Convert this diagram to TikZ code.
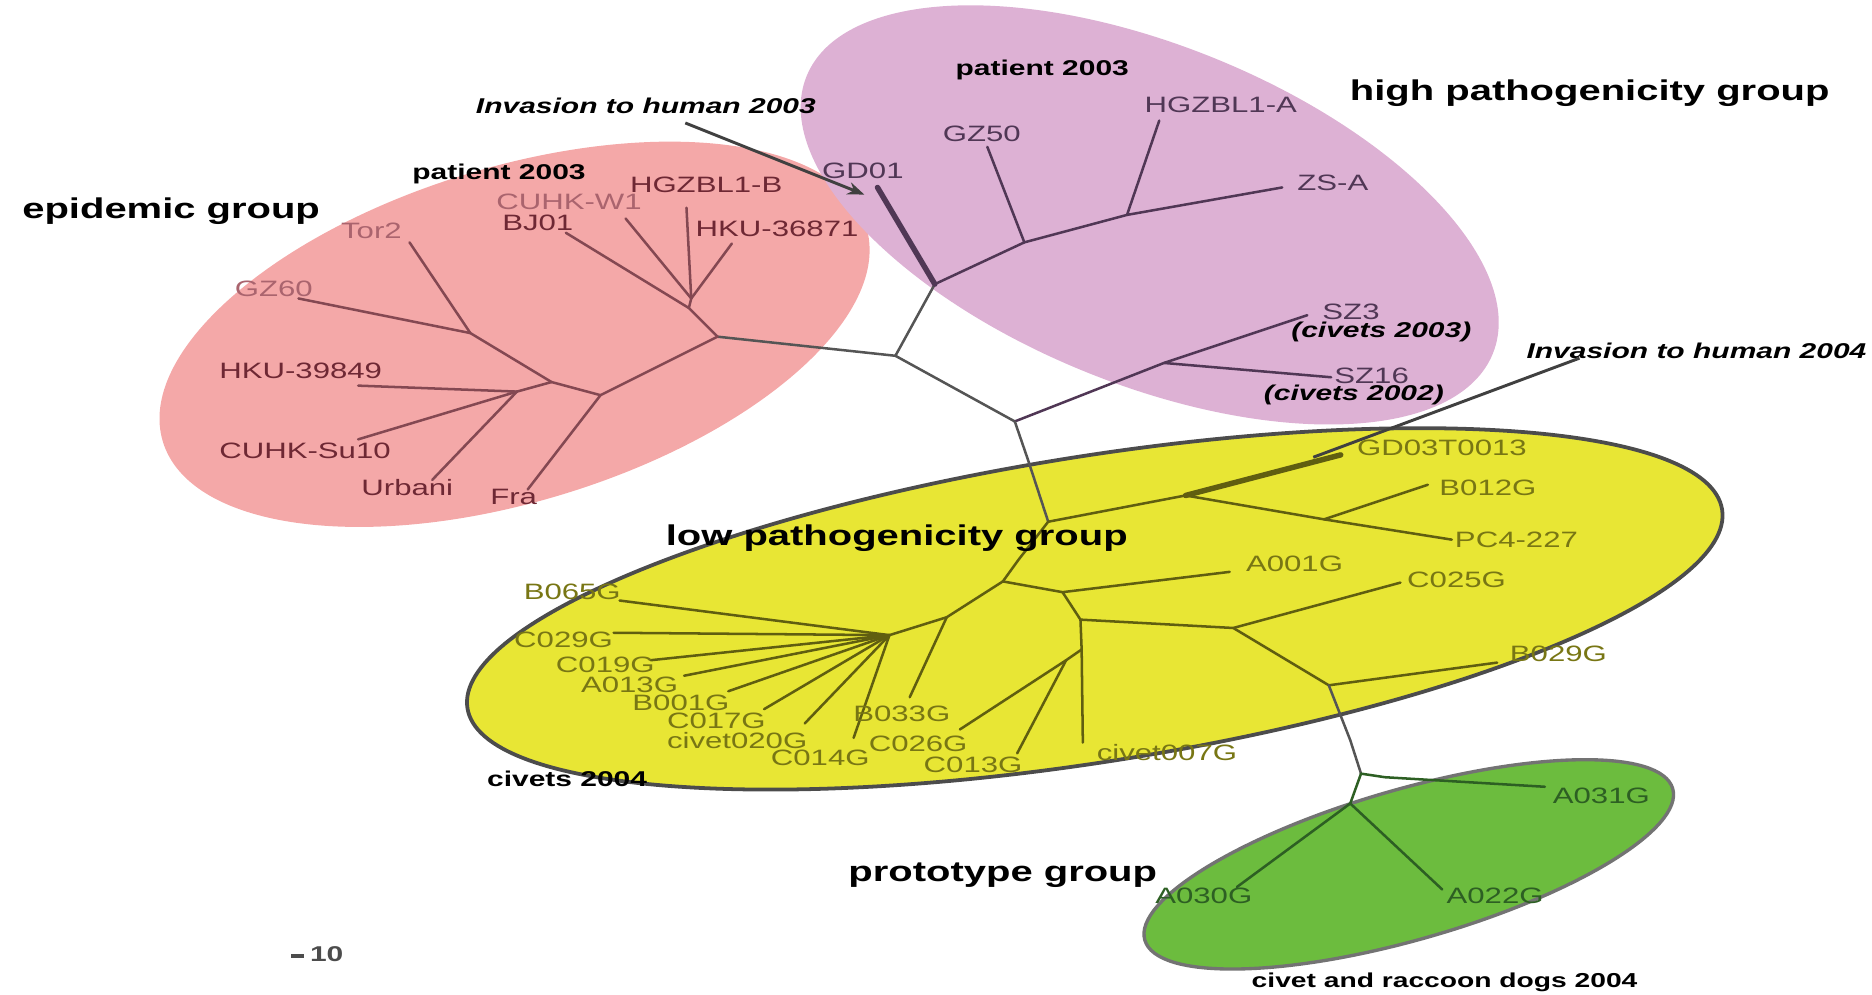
\documentclass[tikz,border=0pt]{standalone}
\usepackage{fontspec}
\setmainfont{Liberation Sans}[FakeStretch=1.4]
\usetikzlibrary{arrows.meta}
\definecolor{epipink}{RGB}{244,168,168}
\definecolor{highpurple}{RGB}{221,177,212}
\definecolor{lowyellow}{RGB}{232,230,52}
\definecolor{protogreen}{RGB}{108,188,62}
\definecolor{pinkink}{RGB}{110,40,52}
\definecolor{pinkpale}{RGB}{170,100,110}
\definecolor{purpink}{RGB}{80,55,85}
\definecolor{yellowink}{RGB}{120,118,20}
\definecolor{greenink}{RGB}{45,95,35}
\definecolor{stemgray}{RGB}{85,85,85}
\tikzset{
  grouplabel/.style={font=\fontsize{6.8}{8}\selectfont\bfseries,
    inner sep=0pt, anchor=west},
  notelabel/.style={font=\fontsize{5.1}{6}\selectfont\bfseries, inner sep=0pt},
  invlabel/.style={font=\fontsize{5.1}{6}\selectfont\bfseries\itshape,
    inner sep=0pt},
  strain/.style={font=\fontsize{5.3}{6}\selectfont, inner sep=0pt,
    anchor=west},
  stem/.style={line width=0.6pt, line cap=round, line join=round,
    draw=stemgray},
  epiline/.style={stem, draw=pinkink!85},
  highline/.style={stem, draw=purpink},
  lowline/.style={stem, draw=yellowink!80!black},
  protoline/.style={stem, draw=greenink},
  pointer/.style={line width=0.7pt, draw=black!75},
}

\begin{document}
\begin{tikzpicture}[x=0.01cm, y=-0.01cm]
  \useasboundingbox (0,0) rectangle (1568,833);

  % group areas
  \coordinate (epic) at (431,280);
  \coordinate (highc) at (963,180);
  \coordinate (lowc) at (917,510);
  \coordinate (protoc) at (1180,724);
  \fill[epipink, rotate around={17:(epic)}] (epic) ellipse [x radius=308, y radius=140];
  \fill[highpurple, rotate around={-22:(highc)}] (highc) ellipse [x radius=310, y radius=142];
  \filldraw[fill=lowyellow, draw=black!70, line width=0.9pt, rotate around={9:(lowc)}]
    (lowc) ellipse [x radius=532, y radius=128];
  \filldraw[fill=protogreen, draw=black!55, line width=0.8pt, rotate around={16:(protoc)}]
    (protoc) ellipse [x radius=230, y radius=63];

  % inner nodes of the tree
  \coordinate (c1) at (750,298);
  \coordinate (c2) at (850,353);
  \coordinate (t1) at (861,385);
  \coordinate (y1) at (878,437);
  \coordinate (t2) at (853,469);
  \coordinate (y4) at (840,487);

  % Epidemic group
  \coordinate (p1) at (394,279);
  \coordinate (p2) at (462,320);
  \coordinate (p3) at (433,328);
  \coordinate (p4) at (503,331);
  \coordinate (p5) at (601,282);
  \coordinate (p6) at (577,258);
  \coordinate (p7) at (579,250);
  \coordinate (tor2e) at (343,203);
  \coordinate (gz60e) at (250,250);
  \coordinate (hku39e) at (300,323);
  \coordinate (su10e) at (300,368);
  \coordinate (urbe) at (362,402);
  \coordinate (frae) at (442,410);
  \coordinate (bj01e) at (474,195);
  \coordinate (w1e) at (524,183);
  \coordinate (hgzbe) at (575,174);
  \coordinate (hku36e) at (613,204);

  \draw[stem] (p5) -- (c1);
  \draw[epiline] (p5) -- (p6) -- (bj01e);
  \draw[epiline] (p6) -- (p7) -- (w1e);
  \draw[epiline] (p7) -- (hgzbe);
  \draw[epiline] (p7) -- (hku36e);
  \draw[epiline] (p5) -- (p4) -- (frae);
  \draw[epiline] (p4) -- (p2) -- (p1) -- (tor2e);
  \draw[epiline] (p1) -- (gz60e);
  \draw[epiline] (p2) -- (p3) -- (hku39e);
  \draw[epiline] (p3) -- (su10e);
  \draw[epiline] (p3) -- (urbe);

  \node[grouplabel] (epititle) at (18,177) {epidemic group};
  \node[notelabel] (epipat) at (418,146) {patient 2003};
  \node[strain, text=pinkpale] (tor2) at (285,193) {Tor2};
  \node[strain, text=pinkpale] (gz60) at (196,242) {GZ60};
  \node[strain, text=pinkink] (hku39) at (183,311) {HKU-39849};
  \node[strain, text=pinkink] (su10) at (183,378) {CUHK-Su10};
  \node[strain, text=pinkink] (urb) at (302,408) {Urbani};
  \node[strain, text=pinkink] (fra) at (410,416) {Fra};
  \node[strain, text=pinkink] (bj01) at (420,187) {BJ01};
  \node[strain, text=pinkpale] (w1) at (415,169) {CUHK-W1};
  \node[strain, text=pinkink] (hgzb) at (527,155) {HGZBL1-B};
  \node[strain, text=pinkink] (hku36) at (582,192) {HKU-36871};

  % High pathogenicity group
  \coordinate (pr) at (783,238);
  \coordinate (pa) at (858,203);
  \coordinate (pb) at (944,180);
  \coordinate (sz) at (975,304);
  \coordinate (gd01e) at (735,157);
  \coordinate (gz50e) at (827,123);
  \coordinate (hgzae) at (971,101);
  \coordinate (zsae) at (1074,157);
  \coordinate (sz3e) at (1095,264);
  \coordinate (sz16e) at (1115,316);

  \draw[stem] (c1) -- (pr);
  \draw[highline, line width=1.3pt] (pr) -- (gd01e);
  \draw[highline] (pr) -- (pa) -- (gz50e);
  \draw[highline] (pa) -- (pb) -- (hgzae);
  \draw[highline] (pb) -- (zsae);
  \draw[stem] (c1) -- (c2);
  \draw[highline] (c2) -- (sz) -- (sz3e);
  \draw[highline] (sz) -- (sz16e);

  \node[grouplabel] (hightitle) at (1130,78) {high pathogenicity group};
  \node[notelabel] (highpat) at (873,59) {patient 2003};
  \node[invlabel] (inv03) at (541,89) {Invasion to human 2003};
  \coordinate (inv03e) at (724,163);
  \draw[pointer, -{Stealth[length=4pt]}] (574,103) -- (inv03e);
  \node[strain, text=purpink] (gd01) at (688,143) {GD01};
  \node[strain, text=purpink] (gz50) at (789,112) {GZ50};
  \node[strain, text=purpink] (hgza) at (958,88) {HGZBL1-A};
  \node[strain, text=purpink] (zsa) at (1086,153) {ZS-A};
  \node[strain, text=purpink] (sz3) at (1107,261) {SZ3};
  \node[invlabel] (civ03) at (1157,278) {(civets 2003)};
  \node[strain, text=purpink] (sz16) at (1117,315) {SZ16};
  \node[invlabel] (civ02) at (1134,331) {(civets 2002)};

  % Low pathogenicity group
  \coordinate (y2) at (993,415);
  \coordinate (y3) at (1109,435);
  \coordinate (y5) at (1033,526);
  \coordinate (y6) at (1113,574);
  \coordinate (y7) at (890,496);
  \coordinate (y8) at (793,517);
  \coordinate (y9) at (905,519);
  \coordinate (y10) at (906,544);
  \coordinate (y11) at (893,553);
  \coordinate (fan) at (745,532);
  \coordinate (t3) at (1131,620);
  \coordinate (gd03e) at (1123,381);
  \coordinate (b012e) at (1196,406);
  \coordinate (pc4e) at (1216,452);
  \coordinate (a001e) at (1030,479);
  \coordinate (c025e) at (1173,488);
  \coordinate (b029e) at (1254,555);
  \coordinate (b033e) at (762,584);
  \coordinate (c026e) at (804,611);
  \coordinate (c013e) at (852,631);
  \coordinate (cv007e) at (907,622);
  \coordinate (b065e) at (519,503);
  \coordinate (c029e) at (514,530);
  \coordinate (c019e) at (545,553);
  \coordinate (a013e) at (573,566);
  \coordinate (b001e) at (610,579);
  \coordinate (c017e) at (640,594);
  \coordinate (cv020e) at (674,606);
  \coordinate (c014e) at (715,618);

  \draw[stem] (c2) -- (t1) -- (y1);
  \draw[lowline] (y1) -- (t2) -- (y4);
  \draw[lowline] (y1) -- (y2);
  \draw[lowline, line width=1.3pt] (y2) -- (gd03e);
  \draw[lowline] (y2) -- (y3) -- (b012e);
  \draw[lowline] (y3) -- (pc4e);
  \draw[lowline] (y4) -- (y8) -- (fan);
  \draw[lowline] (y8) -- (b033e);
  \foreach \leaf in {b065e,c029e,c019e,a013e,b001e,c017e,cv020e,c014e}
    \draw[lowline] (fan) -- (\leaf);
  \draw[lowline] (y4) -- (y7) -- (a001e);
  \draw[lowline] (y7) -- (y9) -- (y5) -- (c025e);
  \draw[lowline] (y5) -- (y6) -- (b029e);
  \draw[lowline] (y9) -- (y10) -- (cv007e);
  \draw[lowline] (y10) -- (y11) -- (c026e);
  \draw[lowline] (y11) -- (c013e);

  \node[grouplabel] (lowtitle) at (557,451) {low pathogenicity group};
  \node[notelabel] (civ04) at (475,652) {civets 2004};
  \node[invlabel] (inv04) at (1421,294) {Invasion to human 2004};
  \coordinate (inv04e) at (1100,383);
  \draw[pointer] (1323,300) -- (inv04e);
  \node[strain, text=yellowink] (gd03) at (1136,375) {GD03T0013};
  \node[strain, text=yellowink] (b012) at (1205,409) {B012G};
  \node[strain, text=yellowink] (pc4) at (1218,452) {PC4-227};
  \node[strain, text=yellowink] (a001) at (1043,472) {A001G};
  \node[strain, text=yellowink] (c025) at (1178,486) {C025G};
  \node[strain, text=yellowink] (b029) at (1264,548) {B029G};
  \node[strain, text=yellowink] (b065) at (438,496) {B065G};
  \node[strain, text=yellowink] (c029) at (430,536) {C029G};
  \node[strain, text=yellowink] (c019) at (465,557) {C019G};
  \node[strain, text=yellowink] (a013) at (486,574) {A013G};
  \node[strain, text=yellowink] (b001) at (529,589) {B001G};
  \node[strain, text=yellowink] (c017) at (558,604) {C017G};
  \node[strain, text=yellowink] (cv020) at (558,620) {civet020G};
  \node[strain, text=yellowink] (c014) at (645,635) {C014G};
  \node[strain, text=yellowink] (b033) at (714,598) {B033G};
  \node[strain, text=yellowink] (c026) at (727,623) {C026G};
  \node[strain, text=yellowink] (c013) at (773,641) {C013G};
  \node[strain, text=yellowink] (cv007) at (918,630) {civet007G};

  % Prototype group
  \coordinate (j1) at (1140,648);
  \coordinate (j2) at (1160,651);
  \coordinate (g0) at (1131,673);
  \coordinate (a031e) at (1294,659);
  \coordinate (a030e) at (1036,743);
  \coordinate (a022e) at (1208,745);

  \draw[stem] (y6) -- (t3) -- (j1);
  \draw[protoline] (j1) -- (j2) -- (a031e);
  \draw[protoline] (j1) -- (g0) -- (a030e);
  \draw[protoline] (g0) -- (a022e);

  \node[grouplabel] (prototitle) at (710,733) {prototype group};
  \node[notelabel, font=\fontsize{4.8}{6}\selectfont\bfseries] (civrac)
    at (1210,823) {civet and raccoon dogs 2004};
  \node[strain, text=greenink] (a031) at (1300,667) {A031G};
  \node[strain, text=greenink] (a030) at (967,750) {A030G};
  \node[strain, text=greenink] (a022) at (1211,750) {A022G};

  % scale bar
  \coordinate (barl) at (244,801);
  \coordinate (barr) at (255,801);
  \draw[line width=1pt, black!70] (barl) -- (barr);
  \node[notelabel, anchor=west, text=black!70] (barlabel) at (259,799) {10};
\end{tikzpicture}
\end{document}
